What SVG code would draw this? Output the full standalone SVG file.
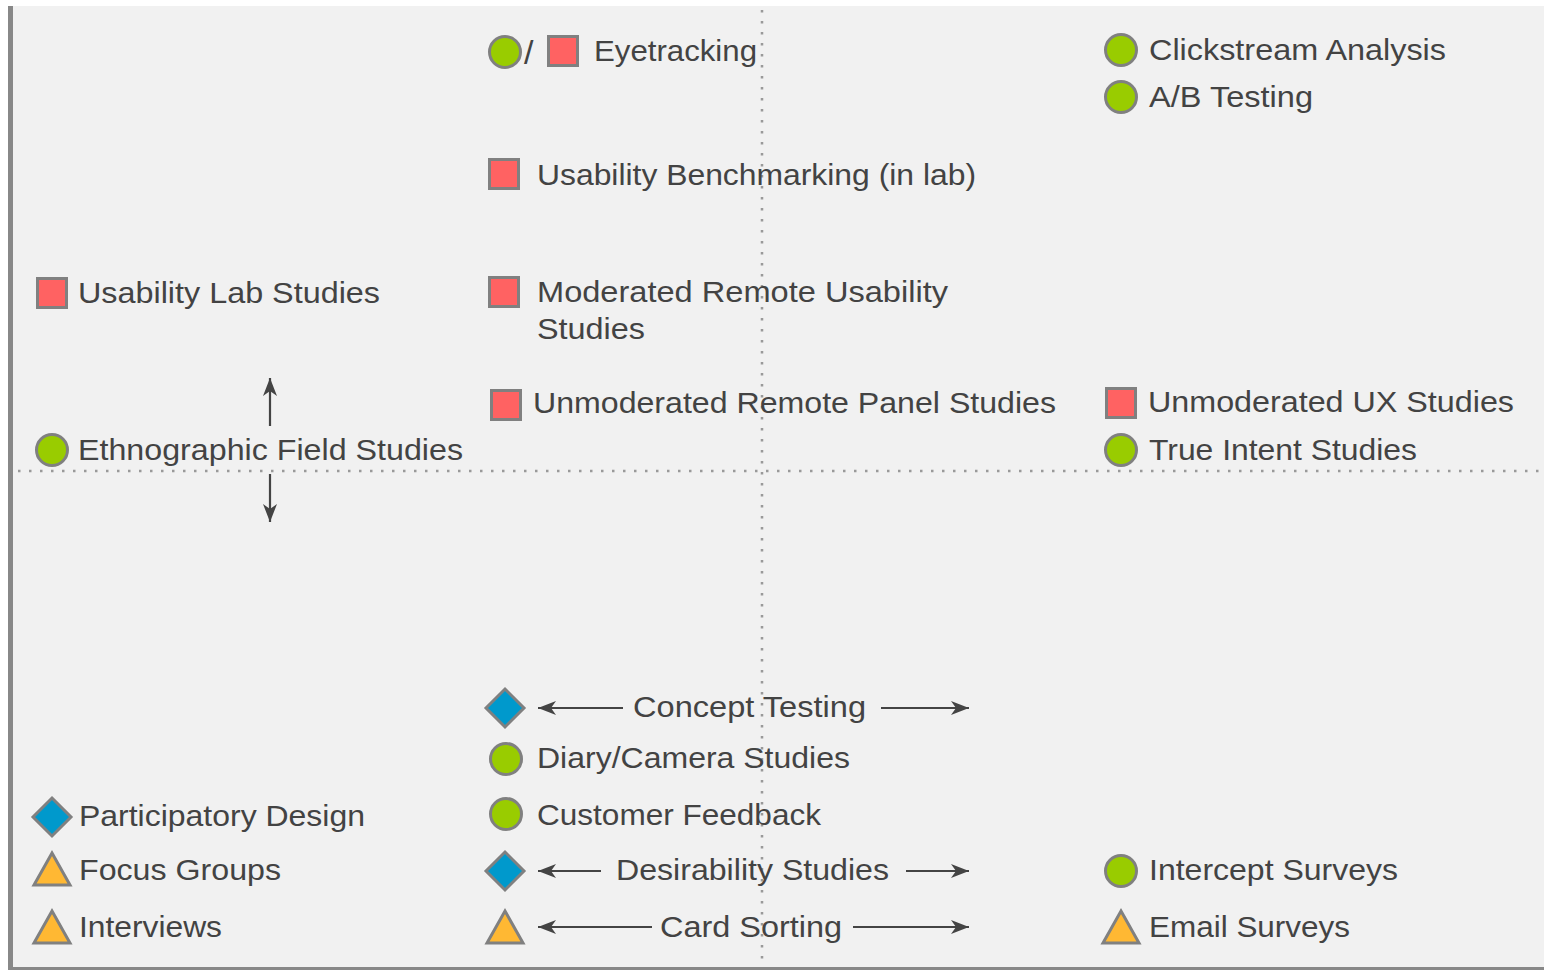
<svg xmlns="http://www.w3.org/2000/svg" width="1550" height="970" viewBox="0 0 1550 970">
  <defs>
    <style>
      .lbl { font-family: "Liberation Sans", Arial, Helvetica, sans-serif; font-size: 29px; fill: #434343; }
      .circ { fill: #99cc00; stroke: #808080; stroke-width: 3; }
      .sq { fill: #ff6262; stroke: #808080; stroke-width: 3; }
      .dia { fill: #0099cc; stroke: #808080; stroke-width: 3; }
      .tri { fill: #ffb833; stroke: #808080; stroke-width: 3; stroke-linejoin: miter; }
      .axis { stroke: #999999; stroke-width: 2.5; stroke-dasharray: 2.5 8.5; fill: none; }
      .arr { stroke: #444444; stroke-width: 2.2; fill: none; marker-end: url(#head); }
    </style>
    <marker id="head" markerUnits="userSpaceOnUse" markerWidth="20" markerHeight="16" refX="18" refY="7" orient="auto">
      <path d="M0,0 L18,7 L0,14 L5,7 z" fill="#444444"/>
    </marker>
    <circle id="c" r="15.5" class="circ"/>
    <rect id="s" x="-14.5" y="-14.5" width="29" height="29" class="sq"/>
    <path id="d" d="M0,-19 L19,0 L0,19 L-19,0 z" class="dia"/>
    <path id="t" d="M0,-16 L18,16 L-18,16 z" class="tri"/>
  </defs>

  <!-- chart area -->
  <rect x="0" y="0" width="1550" height="970" fill="#ffffff"/>
  <rect x="12" y="6" width="1532" height="962" fill="#f1f1f1"/>
  <rect x="8" y="6" width="5" height="964" fill="#888888"/>
  <rect x="8" y="967" width="1536" height="3" fill="#888888"/>

  <!-- quadrant axes and direction arrows -->
  <g id="connectors">
    <line class="axis" x1="762" y1="10" x2="762" y2="966"/>
    <line class="axis" x1="18" y1="471" x2="1544" y2="471"/>
    <line class="arr" x1="270" y1="426" x2="270" y2="378"/>
    <line class="arr" x1="270" y1="474" x2="270" y2="522"/>
    <line class="arr" x1="623" y1="708" x2="538" y2="708"/>
    <line class="arr" x1="881" y1="708" x2="969" y2="708"/>
    <line class="arr" x1="601" y1="871" x2="538" y2="871"/>
    <line class="arr" x1="906" y1="871" x2="969" y2="871"/>
    <line class="arr" x1="652" y1="927" x2="538" y2="927"/>
    <line class="arr" x1="853" y1="927" x2="969" y2="927"/>
  </g>

  <!-- methods -->
  <g id="eyetracking">
    <use href="#c" x="505" y="52"/>
    <text class="lbl" x="524" y="64" style="font-size:34px">/</text>
    <use href="#s" x="563" y="51"/>
    <text class="lbl" x="594" y="61" textLength="163" lengthAdjust="spacingAndGlyphs">Eyetracking</text>
  </g>
  <g id="clickstream">
    <use href="#c" x="1121" y="50"/>
    <text class="lbl" x="1149" y="60" textLength="297" lengthAdjust="spacingAndGlyphs">Clickstream Analysis</text>
  </g>
  <g id="ab-testing">
    <use href="#c" x="1121" y="97"/>
    <text class="lbl" x="1149" y="107" textLength="164" lengthAdjust="spacingAndGlyphs">A/B Testing</text>
  </g>
  <g id="benchmarking">
    <use href="#s" x="504" y="174"/>
    <text class="lbl" x="537" y="185" textLength="439" lengthAdjust="spacingAndGlyphs">Usability Benchmarking (in lab)</text>
  </g>
  <g id="lab-studies">
    <use href="#s" x="52" y="293"/>
    <text class="lbl" x="78" y="303" textLength="302" lengthAdjust="spacingAndGlyphs">Usability Lab Studies</text>
  </g>
  <g id="moderated-remote">
    <use href="#s" x="504" y="292"/>
    <text class="lbl" x="537" y="302" textLength="411" lengthAdjust="spacingAndGlyphs">Moderated  Remote  Usability</text>
    <text class="lbl" x="537" y="339" textLength="108" lengthAdjust="spacingAndGlyphs">Studies</text>
  </g>
  <g id="unmoderated-panel">
    <use href="#s" x="506" y="405"/>
    <text class="lbl" x="533" y="413" textLength="523" lengthAdjust="spacingAndGlyphs">Unmoderated Remote  Panel Studies</text>
  </g>
  <g id="unmoderated-ux">
    <use href="#s" x="1121" y="403"/>
    <text class="lbl" x="1148" y="412" textLength="366" lengthAdjust="spacingAndGlyphs">Unmoderated UX Studies</text>
  </g>
  <g id="ethnographic">
    <use href="#c" x="52" y="450"/>
    <text class="lbl" x="78" y="460" textLength="385" lengthAdjust="spacingAndGlyphs">Ethnographic Field Studies</text>
  </g>
  <g id="true-intent">
    <use href="#c" x="1121" y="450"/>
    <text class="lbl" x="1149" y="460" textLength="268" lengthAdjust="spacingAndGlyphs">True Intent Studies</text>
  </g>
  <g id="concept-testing">
    <use href="#d" x="505" y="708"/>
    <text class="lbl" x="633" y="717" textLength="233" lengthAdjust="spacingAndGlyphs">Concept Testing</text>
  </g>
  <g id="diary-camera">
    <use href="#c" x="506" y="759"/>
    <text class="lbl" x="537" y="768" textLength="313" lengthAdjust="spacingAndGlyphs">Diary/Camera  Studies</text>
  </g>
  <g id="customer-feedback">
    <use href="#c" x="506" y="814"/>
    <text class="lbl" x="537" y="825" textLength="284" lengthAdjust="spacingAndGlyphs">Customer Feedback</text>
  </g>
  <g id="participatory">
    <use href="#d" x="52" y="817"/>
    <text class="lbl" x="79" y="826" textLength="286" lengthAdjust="spacingAndGlyphs">Participatory Design</text>
  </g>
  <g id="focus-groups">
    <use href="#t" x="52" y="869"/>
    <text class="lbl" x="79" y="880" textLength="202" lengthAdjust="spacingAndGlyphs">Focus Groups</text>
  </g>
  <g id="desirability">
    <use href="#d" x="505" y="871"/>
    <text class="lbl" x="616" y="880" textLength="273" lengthAdjust="spacingAndGlyphs">Desirability Studies</text>
  </g>
  <g id="intercept-surveys">
    <use href="#c" x="1121" y="871"/>
    <text class="lbl" x="1149" y="880" textLength="249" lengthAdjust="spacingAndGlyphs">Intercept Surveys</text>
  </g>
  <g id="interviews">
    <use href="#t" x="52" y="927"/>
    <text class="lbl" x="79" y="937" textLength="143" lengthAdjust="spacingAndGlyphs">Interviews</text>
  </g>
  <g id="card-sorting">
    <use href="#t" x="505" y="927"/>
    <text class="lbl" x="660" y="937" textLength="182" lengthAdjust="spacingAndGlyphs">Card Sorting</text>
  </g>
  <g id="email-surveys">
    <use href="#t" x="1121" y="927"/>
    <text class="lbl" x="1149" y="937" textLength="201" lengthAdjust="spacingAndGlyphs">Email Surveys</text>
  </g>
</svg>
